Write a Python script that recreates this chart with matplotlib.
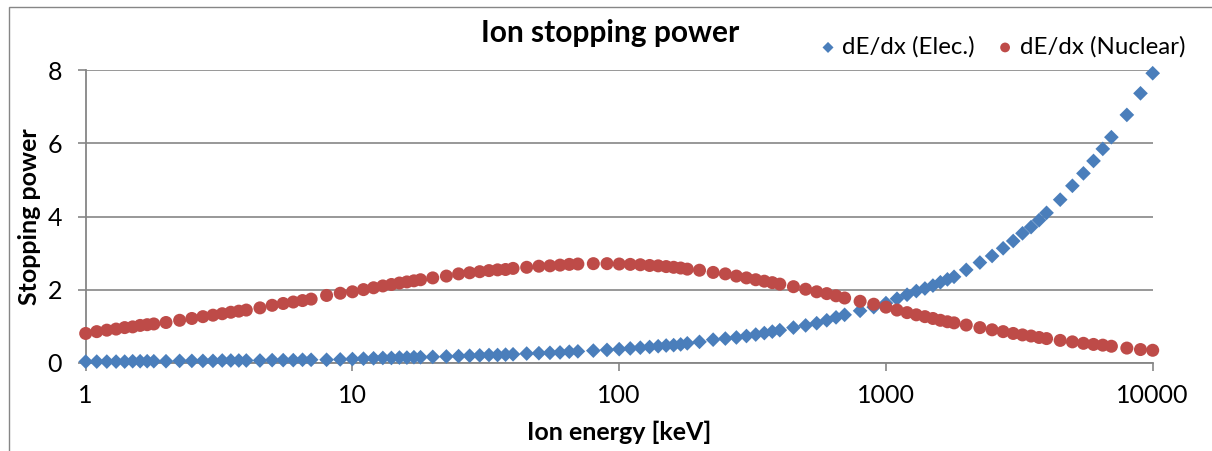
import matplotlib
matplotlib.use("Agg")
import matplotlib.pyplot as plt
from matplotlib.patches import Rectangle

plt.rcParams["font.family"] = ["Lato", "DejaVu Sans"]

# SRIM energy grid (keV)
energy = [
    1, 1.1, 1.2, 1.3, 1.4, 1.5, 1.6, 1.7, 1.8, 2, 2.25, 2.5, 2.75,
    3, 3.25, 3.5, 3.75, 4, 4.5, 5, 5.5, 6, 6.5, 7, 8, 9,
    10, 11, 12, 13, 14, 15, 16, 17, 18, 20, 22.5, 25, 27.5,
    30, 32.5, 35, 37.5, 40, 45, 50, 55, 60, 65, 70, 80, 90,
    100, 110, 120, 130, 140, 150, 160, 170, 180, 200, 225, 250, 275,
    300, 325, 350, 375, 400, 450, 500, 550, 600, 650, 700, 800, 900,
    1000, 1100, 1200, 1300, 1400, 1500, 1600, 1700, 1800, 2000, 2250, 2500, 2750,
    3000, 3250, 3500, 3750, 4000, 4500, 5000, 5500, 6000, 6500, 7000, 8000, 9000,
    10000,
]

dedx_elec = [
    0.03, 0.03, 0.03, 0.03, 0.03, 0.04, 0.04, 0.04, 0.04, 0.04, 0.05, 0.05, 0.05,
    0.05, 0.06, 0.06, 0.06, 0.06, 0.06, 0.07, 0.07, 0.07, 0.08, 0.08, 0.08, 0.09,
    0.10, 0.11, 0.12, 0.13, 0.13, 0.14, 0.14, 0.15, 0.15, 0.16, 0.17, 0.18, 0.19,
    0.20, 0.21, 0.21, 0.22, 0.23, 0.25, 0.26, 0.27, 0.28, 0.30, 0.31, 0.33, 0.35,
    0.37, 0.39, 0.41, 0.43, 0.45, 0.47, 0.48, 0.50, 0.53, 0.57, 0.63, 0.66, 0.69,
    0.73, 0.77, 0.81, 0.85, 0.89, 0.96, 1.02, 1.08, 1.16, 1.24, 1.31, 1.42, 1.52,
    1.63, 1.75, 1.86, 1.96, 2.03, 2.11, 2.20, 2.28, 2.35, 2.54, 2.74, 2.92, 3.13,
    3.33, 3.54, 3.71, 3.90, 4.10, 4.46, 4.84, 5.18, 5.52, 5.85, 6.17, 6.78, 7.37,
    7.92,
]

dedx_nuclear = [
    0.80, 0.85, 0.89, 0.92, 0.96, 0.98, 1.02, 1.04, 1.06, 1.10, 1.16, 1.21, 1.26,
    1.30, 1.34, 1.38, 1.41, 1.44, 1.50, 1.57, 1.62, 1.66, 1.70, 1.74, 1.84, 1.90,
    1.94, 2.00, 2.05, 2.10, 2.14, 2.18, 2.21, 2.24, 2.27, 2.32, 2.37, 2.43, 2.46,
    2.49, 2.52, 2.54, 2.55, 2.58, 2.61, 2.64, 2.65, 2.67, 2.69, 2.70, 2.71, 2.71,
    2.70, 2.69, 2.68, 2.66, 2.65, 2.63, 2.61, 2.59, 2.56, 2.53, 2.47, 2.43, 2.37,
    2.32, 2.27, 2.23, 2.19, 2.15, 2.08, 2.01, 1.94, 1.89, 1.83, 1.77, 1.68, 1.60,
    1.52, 1.44, 1.37, 1.31, 1.26, 1.21, 1.16, 1.12, 1.09, 1.03, 0.96, 0.90, 0.85,
    0.80, 0.76, 0.73, 0.69, 0.66, 0.61, 0.57, 0.53, 0.50, 0.48, 0.45, 0.40, 0.36,
    0.34,
]

x_ticks = [1, 10, 100, 1000, 10000]
x_tick_labels = ["1", "10", "100", "1000", "10000"]
y_ticks = [0, 2, 4, 6, 8]

blue = "#4A7EBB"
red = "#BE4B48"
grey = "#868686"

W, H = 1212, 451
fig = plt.figure(figsize=(W / 100, H / 100), dpi=100)
ax = fig.add_axes([85.7 / W, 1 - 362.7 / H, (1152.7 - 85.7) / W, (362.7 - 70.3) / H])

# chart area border
fig.add_artist(Rectangle((9 / W, -0.1), 1.2, (H - 7) / H + 0.1,
                         transform=fig.transFigure, fill=False,
                         edgecolor=grey, lw=1.0))

ax.scatter(energy, dedx_elec, marker="D", s=56, color=blue, edgecolors="none",
           label="dE/dx (Elec.)", clip_on=False, zorder=3)
ax.scatter(energy, dedx_nuclear, marker="o", s=88, color=red, edgecolors="none",
           label="dE/dx (Nuclear)", clip_on=False, zorder=3)

ax.set_xscale("log")
ax.set_xlim(1, 10000)
ax.set_ylim(0, 8)
ax.set_xticks(x_ticks)
ax.set_xticklabels(x_tick_labels)
ax.xaxis.set_minor_locator(matplotlib.ticker.NullLocator())
ax.set_yticks(y_ticks)

ax.grid(axis="y", color=grey, lw=1.2, zorder=0)
ax.set_axisbelow(True)
for side in ("top", "right"):
    ax.spines[side].set_visible(False)
for side in ("left", "bottom"):
    ax.spines[side].set_color(grey)
    ax.spines[side].set_linewidth(1.3)
ax.tick_params(axis="both", length=6, width=1.2, color=grey, labelsize=18)
ax.tick_params(axis="y", pad=11)
ax.tick_params(axis="x", pad=9)

ax.set_xlabel("Ion energy [keV]", fontsize=18, fontweight="bold", labelpad=10)
ax.set_ylabel("Stopping power", fontsize=18, fontweight="bold", labelpad=5)
fig.text(610 / W, 1 - 33 / H, "Ion stopping power", fontsize=21.5,
         fontweight="bold", ha="center", va="center")

ax.legend(loc="center left", bbox_to_anchor=(816 / W, 1 - 47 / H),
          bbox_transform=fig.transFigure, ncol=2, frameon=False, fontsize=17.3,
          handletextpad=0.1, columnspacing=0.75, borderaxespad=0, borderpad=0,
          handlelength=1.0, markerscale=0.75)

fig.savefig("out.png", dpi=100)
